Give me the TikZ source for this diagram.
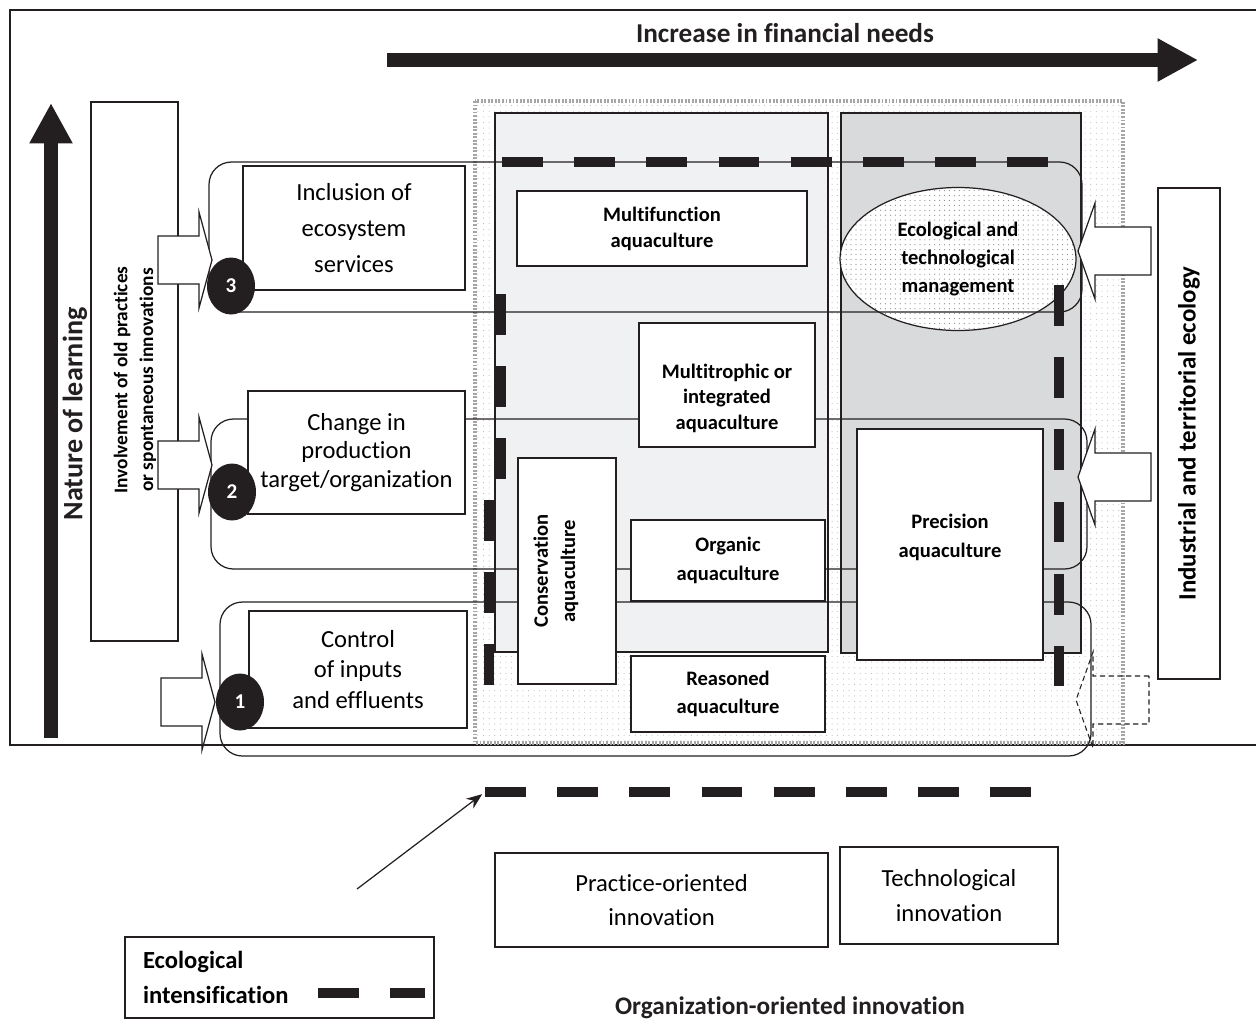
\documentclass[tikz,border=0pt]{standalone}
\usepackage{fontspec}
\setmainfont{Carlito}[Ligatures={NoCommon}]
\usetikzlibrary{positioning, shapes.geometric, patterns.meta, arrows.meta}

\definecolor{ink}{HTML}{231F20}
\definecolor{panelLight}{HTML}{F0F1F3}
\definecolor{panelDark}{HTML}{D9DADC}

\tikzset{
	thinline/.style={draw=ink, line width=0.7pt},
	stagebox/.style={thinline, fill=white, align=center, inner sep=0pt, font=\fontsize{14}{19.5}\selectfont},
	aquabox/.style={thinline, fill=white, align=center, inner sep=0pt, font=\fontsize{11.7}{16.3}\selectfont\bfseries},
	aquatext/.style={align=center, inner sep=0pt, font=\fontsize{11.7}{14.5}\selectfont\bfseries},
	stagenum/.style={ellipse, fill=ink, text=white, inner sep=0pt, minimum width=0.96cm, minimum height=1.14cm, font=\fontsize{12}{12}\selectfont\bfseries},
	band/.style={thinline, rounded corners=0.45cm},
	eidash/.style={draw=ink, line width=5.7pt, dash pattern=on 23.2pt off 17.9pt},
	blockarrow/.style={thinline, fill=white, line join=miter},
	bigarrow/.style={draw=ink, line width=7.5pt, -{Triangle[length=23pt, width=23pt]}},
	heading/.style={text=ink, inner sep=0pt, font=\fontsize{15.5}{18}\selectfont\bfseries},
}

\begin{document}
\begin{tikzpicture}[x=0.02cm, y=-0.02cm]
	\useasboundingbox (0,0) rectangle (1256,1022);
	\draw[thinline] (10,10) rectangle (1262,745);

	% axes
	\coordinate (finTail) at (387,60);
	\coordinate (finTip) at (1198,60);
	\draw[bigarrow] (finTail) -- (finTip);
	\node[heading] (finance) at (785,33) {Increase in financial needs};
	\coordinate (learnTail) at (51,738);
	\coordinate (learnTip) at (51,103);
	\draw[bigarrow] (learnTail) -- (learnTip);
	\node[heading, rotate=90, font=\fontsize{16}{18}\selectfont\bfseries] (learning) at (75,414) {Nature of learning};

	% innovation field and panels
	\path[pattern={Dots[radius=0.3pt, distance=3.2pt]}, pattern color=gray!60] (475,101) rectangle (1123,743);
	\draw[draw=gray!70, line width=2pt, dash pattern=on 1.1pt off 0.9pt] (475,101) rectangle (1123,743);
	\draw[thinline, fill=panelLight] (495,113) rectangle (828,652);
	\draw[thinline, fill=panelDark] (841,113) rectangle (1081,653);
	\node[ellipse, thinline, preaction={fill=white}, pattern={Dots[radius=0.35pt, distance=2.8pt]}, pattern color=gray!90,
		minimum width=4.72cm, minimum height=2.86cm, align=center, font=\fontsize{11.7}{16.2}\selectfont\bfseries] (management) at (958,259) {Ecological and\\technological\\management};

	% learning levels
	\draw[band] (209,162) rectangle (1082,312);
	\draw[band] (211,419) rectangle (1087,569);
	\draw[band] (220,602) rectangle (1091,756);

	\node[stagebox, minimum width=4.44cm, minimum height=2.48cm, font=\fontsize{14}{20.4}\selectfont] (inclusion) at (354,228) {Inclusion of\\ecosystem\\services};
	\node[stagebox, minimum width=4.34cm, minimum height=2.46cm, font=\fontsize{14}{16.2}\selectfont] (change) at (356.5,452.5) {Change in\\production\\target/organization};
	\node[stagebox, minimum width=4.36cm, minimum height=2.34cm, font=\fontsize{14}{17.6}\selectfont] (control) at (358,669.5) {Control\\of inputs\\and effluents};

	\node[aquabox, minimum width=5.8cm, minimum height=1.5cm, font=\fontsize{11.7}{14.7}\selectfont\bfseries] (multifunction) at (662,228.5) {Multifunction\\aquaculture};
	\node[aquabox, minimum width=3.52cm, minimum height=2.48cm] (multitrophic) at (727,385) {};
	\node[aquatext] (multitrophicText) at (727,398) {Multitrophic or\\integrated\\aquaculture};
	\node[aquabox, rotate=90, minimum width=4.52cm, minimum height=1.96cm] (conservation) at (567,571) {};
	\node[aquatext, rotate=90, font=\fontsize{11.7}{15.5}\selectfont\bfseries] (conservationText) at (556,571) {Conservation\\aquaculture};
	\node[aquabox, minimum width=3.88cm, minimum height=1.62cm] (organic) at (728,560.5) {Organic\\aquaculture};
	\node[aquabox, minimum width=3.88cm, minimum height=1.52cm] (reasoned) at (728,694) {Reasoned\\aquaculture};
	\node[aquabox, minimum width=3.72cm, minimum height=4.62cm] (precision) at (950,544.5) {};
	\node[aquatext, font=\fontsize{11.7}{16.4}\selectfont\bfseries] (precisionText) at (950,537) {Precision\\aquaculture};

	% sources of learning
	\node[thinline, rotate=90, minimum width=10.78cm, minimum height=1.74cm] (involvement) at (134.5,371.5) {};
	\node[rotate=90, align=center, inner sep=0pt, font=\fontsize{11}{14.7}\selectfont\bfseries] (involvementText) at (135,380) {Involvement of old practices\\or spontaneous innovations};
	\node[thinline, rotate=90, minimum width=9.82cm, minimum height=1.24cm, font=\fontsize{14.2}{17}\selectfont\bfseries] (ecology) at (1189,433.5) {Industrial and territorial ecology};

	\foreach \x/\cy in {158/260, 158/465, 161/702}
		\draw[blockarrow] (\x,\cy-24) -- ++(41,0) -- ++(0,-24) -- ++(13,48) -- ++(-13,48) -- ++(0,-24) -- ++(-41,0) -- cycle;
	\foreach \cy in {251, 477}
		\draw[blockarrow] (1151,\cy-24) -- ++(-56,0) -- ++(0,-24) -- ++(-17,48) -- ++(17,48) -- ++(0,-24) -- ++(56,0) -- cycle;
	\draw[thinline, line width=0.6pt, dash pattern=on 3pt off 2pt] (1149,676) -- ++(-56,0) -- ++(0,-24) -- ++(-17,48) -- ++(17,48) -- ++(0,-24) -- ++(56,0) -- cycle;

	\node[stagenum] (stage3) at (231,286) {3};
	\node[stagenum] (stage2) at (232,492) {2};
	\node[stagenum] (stage1) at (240,702) {1};

	% ecological intensification
	\draw[eidash] (502,162) -- (1051,162);
	\draw[eidash] (501,294) -- (501,481);
	\draw[eidash] (489,500) -- (489,686);
	\draw[eidash] (1059,285) -- (1059,686);

	% legend
	\coordinate (eiLineStart) at (485,792);
	\coordinate (eiLineEnd) at (1032,792);
	\draw[eidash] (eiLineStart) -- (eiLineEnd);
	\node[thinline, minimum width=6.18cm, minimum height=1.62cm, text width=5.46cm, inner xsep=0.36cm, align=left,
		font=\fontsize{14}{20}\selectfont\bfseries] (legend) at (279.5,977.5) {Ecological\\intensification};
	\draw[eidash] (318,993) -- (425,993);
	\coordinate (legendTail) at (357,889);
	\draw[thinline, -{Stealth[length=9pt, width=7pt]}, shorten >=2pt] (legendTail) -- (eiLineStart);

	\node[stagebox, minimum width=6.66cm, minimum height=1.88cm] (practice) at (661.5,900) {Practice-oriented\\innovation};
	\node[stagebox, minimum width=4.36cm, minimum height=1.94cm] (technological) at (949,895.5) {Technological\\innovation};
	\node[heading, font=\fontsize{14.4}{17}\selectfont\bfseries] (organization) at (790,1008) {Organization-oriented innovation};
\end{tikzpicture}
\end{document}
